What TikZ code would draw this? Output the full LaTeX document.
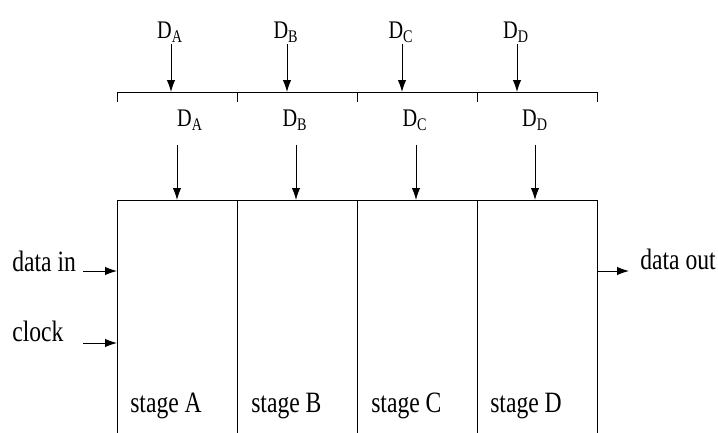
\documentclass[tikz,border=0pt]{standalone}
\usepackage{fontspec}
\setmainfont[FakeStretch=0.8]{Liberation Serif}
\usetikzlibrary{arrows.meta,positioning,calc}

\begin{document}
\begin{tikzpicture}[x=0.025cm,y=-0.025cm,
    wire/.style={line width=0.7pt},
    sig/.style={line width=0.7pt,-{Latex[length=8.5pt,width=6pt]}},
    dlab/.style={inner sep=1pt,font=\fontsize{18}{20}\selectfont},
    txt/.style={inner sep=0pt,anchor=base west,font=\fontsize{21}{24}\selectfont},
    stagelab/.style={inner sep=0pt,anchor=base west,font=\fontsize{21}{24}\selectfont}]
  \useasboundingbox (0,0) rectangle (718,433);

  % latch bus above the stages
  \draw[wire] (117,102) -- (117,92) -- (597,92) -- (597,102);
  \foreach \x in {237,357,477}{
    \draw[wire] (\x,92) -- (\x,102);
  }

  % inputs to the bus
  \foreach \x/\s in {171/A,287/B,402/C,517/D}{
    \node[dlab] (top\s) at (\x-1,32) {D\textsubscript{\s}};
    \coordinate (bus\s) at (\x,92);
    \draw[sig] (bus\s |- top\s.south) -- (bus\s);
  }

  % bus outputs into the stages
  \foreach \x/\lx/\s in {177/190/A,296/295/B,416/415/C,535/535/D}{
    \node[dlab] (mid\s) at (\lx,120) {D\textsubscript{\s}};
    \coordinate (in\s) at (\x,200);
    \draw[sig] (\x,145) -- (in\s);
  }

  % stage block (open at the bottom)
  \draw[wire] (117,433) -- (117,200) -- (597,200) -- (597,433);
  \foreach \x in {237,357,477}{
    \draw[wire] (\x,200) -- (\x,433);
  }
  \foreach \x/\s in {130/A,251/B,371/C,490/D}{
    \node[stagelab] (stage\s) at (\x,412) {stage \s};
  }

  % left side signals
  \node[txt] (datain) at (12,271) {data in};
  \coordinate (dinL) at (83,271);
  \coordinate (dinR) at (117,271);
  \draw[sig] (dinL) -- (dinR);
  \node[txt] (clock) at (12,341) {clock};
  \coordinate (clkL) at (83,343);
  \coordinate (clkR) at (117,343);
  \draw[sig] (clkL) -- (clkR);

  % right side output
  \coordinate (doutL) at (597,271);
  \coordinate (doutR) at (629,271);
  \node[txt] (dataout) at (640,269) {data out};
  \draw[sig] (doutL) -- (doutR);
\end{tikzpicture}
\end{document}
